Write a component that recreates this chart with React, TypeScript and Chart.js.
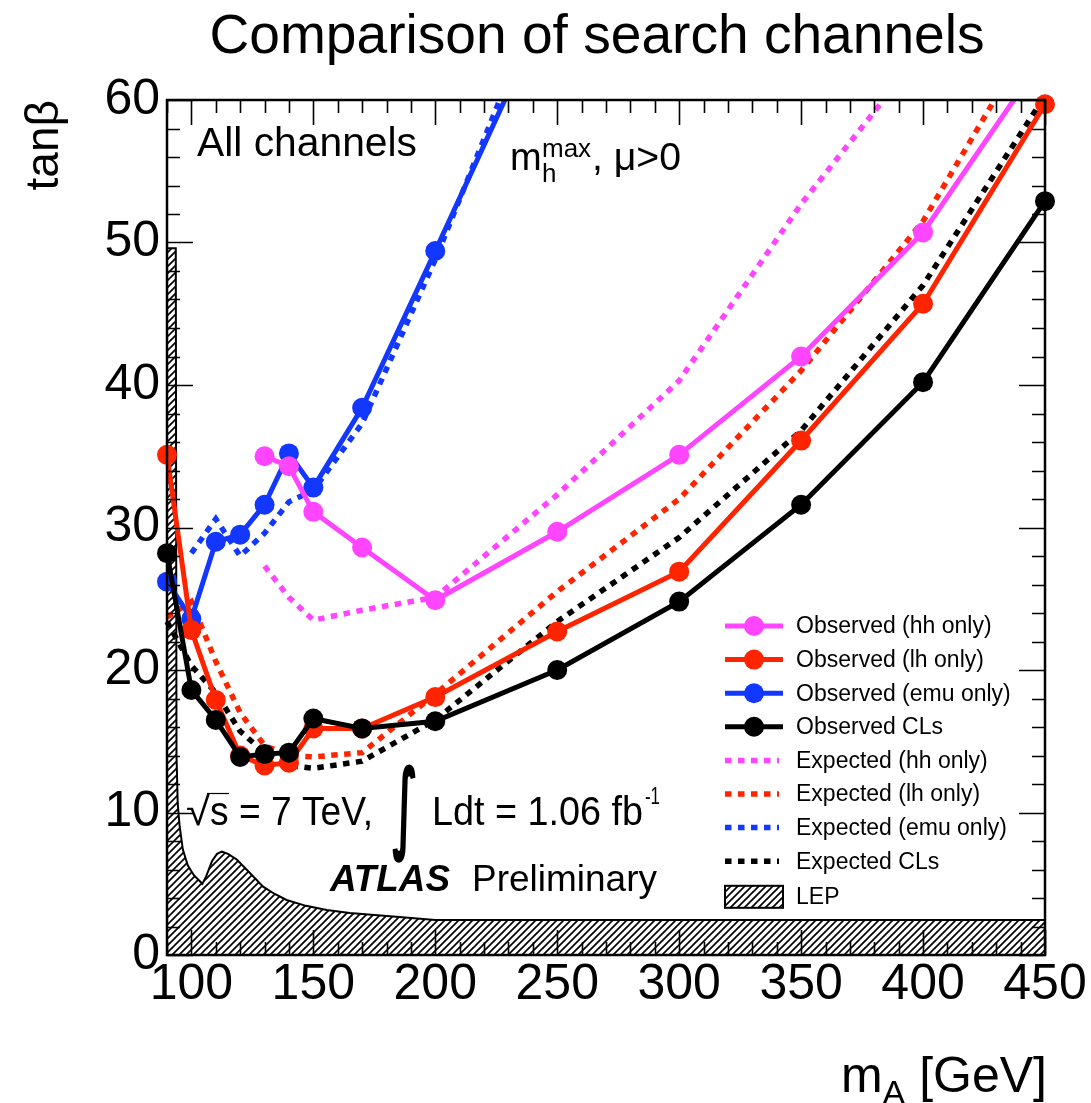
import React, { useEffect, useRef } from 'react';
import { Chart, registerables } from 'chart.js';

Chart.register(...registerables);

const W = 1091;
const H = 1103;
const FONT = '"Liberation Sans", Arial, Helvetica, sans-serif';

// ---------------- data ----------------
const massGrid = [90, 100, 110, 120, 130, 140, 150, 170, 200, 250, 300, 350, 400, 450];

const obsHhMass = [130, 140, 150, 170, 200, 250, 300, 350, 400, 450];
const obsHh = [35.0, 34.3, 31.1, 28.6, 24.9, 29.7, 35.1, 42.0, 50.7, 63.2];

const obsLh = [35.1, 22.8, 17.9, 14.0, 13.3, 13.5, 15.9, 15.9, 18.1, 22.7, 26.9, 36.1, 45.7, 59.7];

const obsEmuMass = [90, 100, 110, 120, 130, 140, 150, 170, 200, 250];
const obsEmu = [26.2, 23.6, 29.0, 29.5, 31.6, 35.2, 32.8, 38.4, 49.4, 68.0];

const obsCLs = [28.2, 18.6, 16.5, 13.9, 14.1, 14.2, 16.6, 15.9, 16.4, 20.0, 24.8, 31.6, 40.2, 52.9];

const expHhMass = [130, 140, 150, 170, 200, 250, 300, 350, 400];
const expHh = [27.3, 25.1, 23.5, 24.2, 25.1, 32.3, 40.3, 52.7, 63.5];

const expLh = [23.7, 24.8, 20.6, 17.0, 14.7, 14.0, 13.9, 14.2, 18.3, 25.5, 32.0, 41.0, 51.5, 66.0];

const expEmuMass = [100, 110, 120, 130, 140, 150, 170, 200, 250];
const expEmu = [28.2, 30.6, 28.0, 29.6, 31.8, 32.6, 37.3, 48.8, 70.0];

const expCLs = [23.4, 20.3, 18.4, 15.7, 14.2, 13.3, 13.1, 13.6, 16.5, 23.4, 29.3, 36.8, 47.0, 60.3];

const lepMass = [90, 93.6, 93.9, 94.4, 95.2, 96.5, 98.5, 101, 104.5, 106, 108.5, 110.5, 112.5, 115, 118.6, 124, 129.4, 134, 139, 147, 155.5, 165, 182.7, 200, 450];
const lepTanb = [49.6, 49.6, 14.0, 10.6, 9.0, 7.4, 6.3, 5.6, 5.0, 5.5, 6.6, 7.1, 7.25, 7.1, 6.7, 5.75, 4.8, 4.3, 3.86, 3.45, 3.16, 2.95, 2.7, 2.46, 2.46];

const xTickValues = [100, 150, 200, 250, 300, 350, 400, 450];
const yTickValues = [0, 10, 20, 30, 40, 50, 60];

const seriesLabels = [
  'Observed (hh only)',
  'Observed (lh only)',
  'Observed (emu only)',
  'Observed CLs',
  'Expected (hh only)',
  'Expected (lh only)',
  'Expected (emu only)',
  'Expected CLs',
  'LEP',
];

const MAGENTA = '#ff45ff';
const RED = '#ff2400';
const BLUE = '#1237ff';
const BLACK = '#000000';

// ---------------- helpers ----------------
const pts = (xs: number[], ys: number[]) => xs.map((x, i) => ({ x, y: ys[i] }));

function makeHatch(size = 7, lw = 1.7): CanvasPattern | string {
  const c = document.createElement('canvas');
  c.width = size;
  c.height = size;
  const g = c.getContext('2d');
  if (!g) return '#888';
  g.strokeStyle = '#000';
  g.lineWidth = lw;
  g.beginPath();
  g.moveTo(0, size);
  g.lineTo(size, 0);
  g.moveTo(-2, 2);
  g.lineTo(2, -2);
  g.moveTo(size - 2, size + 2);
  g.lineTo(size + 2, size - 2);
  g.stroke();
  const p = g.createPattern(c, 'repeat');
  return p || '#888';
}

function fitText(ctx: CanvasRenderingContext2D, s: string, x: number, y: number, font: string, width?: number, align: 'left' | 'center' | 'right' = 'left') {
  ctx.save();
  ctx.font = font;
  ctx.textBaseline = 'alphabetic';
  ctx.textAlign = 'left';
  const w = ctx.measureText(s).width;
  const sx = width ? width / w : 1;
  const drawnW = w * sx;
  let x0 = x;
  if (align === 'center') x0 = x - drawnW / 2;
  if (align === 'right') x0 = x - drawnW;
  ctx.translate(x0, y);
  ctx.scale(sx, 1);
  ctx.fillText(s, 0, 0);
  ctx.restore();
  return drawnW;
}

const decorPlugin = {
  id: 'atlasDecor',
  afterDatasetsDraw(chart: any) {
    const ctx: CanvasRenderingContext2D = chart.ctx;
    const { left, right, top, bottom } = chart.chartArea;
    const xs = chart.scales.x;
    const ys = chart.scales.y;
    ctx.save();
    ctx.strokeStyle = '#000';
    ctx.lineWidth = 1.6;
    ctx.beginPath();
    for (let v = 90; v <= 450; v += 10) {
      const px = Math.round(xs.getPixelForValue(v)) + 0.5;
      const len = v % 50 === 0 ? 25 : 13;
      ctx.moveTo(px, bottom);
      ctx.lineTo(px, bottom - len);
      ctx.moveTo(px, top);
      ctx.lineTo(px, top + len);
    }
    for (let v = 0; v <= 60; v += 2) {
      const py = Math.round(ys.getPixelForValue(v)) + 0.5;
      const len = v % 10 === 0 ? 26 : 13;
      ctx.moveTo(left, py);
      ctx.lineTo(left + len, py);
      ctx.moveTo(right, py);
      ctx.lineTo(right - len, py);
    }
    ctx.stroke();
    ctx.lineWidth = 2.5;
    ctx.strokeRect(left, top, right - left, bottom - top);
    ctx.restore();
  },
  afterDraw(chart: any) {
    const ctx: CanvasRenderingContext2D = chart.ctx;
    ctx.save();
    ctx.fillStyle = '#000';

    // title
    fitText(ctx, 'Comparison of search channels', 597, 53, `56px ${FONT}`, 775, 'center');

    // y title
    ctx.save();
    ctx.translate(58, 100);
    ctx.rotate(-Math.PI / 2);
    ctx.font = `46px ${FONT}`;
    ctx.textAlign = 'right';
    ctx.textBaseline = 'alphabetic';
    ctx.fillText('tanβ', 0, 0);
    ctx.restore();

    // x title: m_A [GeV]
    ctx.save();
    ctx.textBaseline = 'alphabetic';
    ctx.textAlign = 'left';
    ctx.font = `50px ${FONT}`;
    const wm = ctx.measureText('m').width;
    const wr = ctx.measureText(' [GeV]').width;
    ctx.font = `34px ${FONT}`;
    const wa = ctx.measureText('A').width;
    let xx = 1047 - (wm + wa + wr);
    ctx.font = `50px ${FONT}`;
    ctx.fillText('m', xx, 1092);
    xx += wm;
    ctx.font = `34px ${FONT}`;
    ctx.fillText('A', xx, 1104);
    xx += wa;
    ctx.font = `50px ${FONT}`;
    ctx.fillText(' [GeV]', xx, 1092);
    ctx.restore();

    // in-frame labels
    fitText(ctx, 'All channels', 197, 156, `40px ${FONT}`, 220);
    fitText(ctx, 'm', 510, 170, `38px ${FONT}`);
    fitText(ctx, 'max', 542, 157, `26px ${FONT}`);
    fitText(ctx, 'h', 542, 182, `26px ${FONT}`);
    fitText(ctx, ', μ>0', 592, 170, `38px ${FONT}`, 89);

    // sqrt(s) = 7 TeV, int L dt = 1.06 fb^-1
    fitText(ctx, '√', 186, 825, `40px ${FONT}`, 24);
    ctx.save();
    ctx.strokeStyle = '#000';
    ctx.lineWidth = 1.2;
    ctx.beginPath();
    ctx.moveTo(207, 793.5);
    ctx.lineTo(229, 793.5);
    ctx.stroke();
    ctx.restore();
    fitText(ctx, 's = 7 TeV,', 210, 825, `41px ${FONT}`, 163);
    fitText(ctx, '∫', 392, 840, `bold 100px "DejaVu Sans", ${FONT}`, 26);
    fitText(ctx, 'Ldt = 1.06 fb', 432, 825, `41px ${FONT}`, 211);
    fitText(ctx, '-1', 645, 804, `24px ${FONT}`, 15);

    fitText(ctx, 'ATLAS', 330, 891, `bold italic 36px ${FONT}`, 120);
    fitText(ctx, 'Preliminary', 472, 891, `36px ${FONT}`, 185);

    // legend
    const datasets = chart.data.datasets;
    const rowY0 = 626;
    const rowStep = 33.6;
    ctx.font = `23px ${FONT}`;
    ctx.textBaseline = 'middle';
    ctx.textAlign = 'left';
    datasets.forEach((ds: any, i: number) => {
      const y = rowY0 + i * rowStep + (i === 8 ? 2 : 0);
      ctx.save();
      if (ds.isLep) {
        ctx.fillStyle = ds.backgroundColor;
        ctx.fillRect(725, y - 11, 58, 22);
        ctx.strokeStyle = '#000';
        ctx.lineWidth = 2;
        ctx.strokeRect(725, y - 11, 58, 22);
      } else if (ds.borderDash && ds.borderDash.length) {
        ctx.strokeStyle = ds.borderColor;
        ctx.lineWidth = ds.borderWidth;
        ctx.setLineDash(ds.borderDash);
        ctx.beginPath();
        ctx.moveTo(725, y);
        ctx.lineTo(779, y);
        ctx.stroke();
      } else {
        ctx.strokeStyle = ds.borderColor;
        ctx.lineWidth = ds.borderWidth;
        ctx.beginPath();
        ctx.moveTo(725, y);
        ctx.lineTo(783, y);
        ctx.stroke();
        ctx.fillStyle = ds.pointBackgroundColor;
        ctx.beginPath();
        ctx.arc(754, y, ds.pointRadius, 0, Math.PI * 2);
        ctx.fill();
      }
      ctx.restore();
      ctx.fillStyle = '#000';
      ctx.fillText(ds.label, 796, y + 1);
    });
    ctx.restore();
  },
};

const topClip = { left: false, top: 0, right: false, bottom: false } as any;

export default function App() {
  const ref = useRef<HTMLCanvasElement | null>(null);

  useEffect(() => {
    const canvas = ref.current;
    if (!canvas) return;
    const hatch = makeHatch();

    const observed = (label: string, xs: number[], ys: number[], color: string, order: number, clip: any) => ({
      label,
      data: pts(xs, ys),
      borderColor: color,
      backgroundColor: color,
      pointBackgroundColor: color,
      pointBorderColor: color,
      pointBorderWidth: 0,
      pointRadius: 10,
      borderWidth: 5,
      tension: 0,
      fill: false,
      order,
      clip,
    });
    const expected = (label: string, xs: number[], ys: number[], color: string, order: number) => ({
      label,
      data: pts(xs, ys),
      borderColor: color,
      backgroundColor: color,
      borderDash: [6.5, 6.5],
      borderCapStyle: 'butt',
      borderWidth: 5.5,
      pointRadius: 0,
      tension: 0,
      fill: false,
      order,
      clip: topClip,
    });

    const chart = new Chart(canvas, {
      type: 'line',
      data: {
        datasets: [
          observed(seriesLabels[0], obsHhMass, obsHh, MAGENTA, 2, topClip),
          observed(seriesLabels[1], massGrid, obsLh, RED, 1, false),
          observed(seriesLabels[2], obsEmuMass, obsEmu, BLUE, 3, topClip),
          observed(seriesLabels[3], massGrid, obsCLs, BLACK, 0, false),
          expected(seriesLabels[4], expHhMass, expHh, MAGENTA, 7),
          expected(seriesLabels[5], massGrid, expLh, RED, 6),
          expected(seriesLabels[6], expEmuMass, expEmu, BLUE, 5),
          expected(seriesLabels[7], massGrid, expCLs, BLACK, 4),
          {
            label: seriesLabels[8],
            isLep: true,
            data: pts(lepMass, lepTanb),
            borderColor: '#000',
            borderWidth: 2,
            backgroundColor: hatch,
            fill: 'origin',
            pointRadius: 0,
            tension: 0,
            order: 10,
          } as any,
        ] as any,
      },
      options: {
        responsive: false,
        devicePixelRatio: 1,
        animation: false,
        events: [],
        layout: { padding: { top: 100, right: 46, left: 0, bottom: 0 } },
        plugins: {
          legend: { display: false },
          tooltip: { enabled: false },
          title: { display: false },
        },
        scales: {
          x: {
            type: 'linear',
            min: 90,
            max: 450,
            grid: { display: false, drawTicks: false },
            border: { display: false },
            ticks: {
              color: '#000',
              font: { family: FONT, size: 50 },
              padding: 0,
              maxRotation: 0,
              autoSkip: false,
            },
            afterBuildTicks: (scale: any) => {
              scale.ticks = xTickValues.map((v) => ({ value: v }));
            },
            afterFit: (scale: any) => {
              scale.height = 148;
            },
          },
          y: {
            type: 'linear',
            min: 0,
            max: 60,
            grid: { display: false, drawTicks: false },
            border: { display: false },
            ticks: {
              color: '#000',
              font: { family: FONT, size: 50 },
              padding: 7,
              autoSkip: false,
            },
            afterBuildTicks: (scale: any) => {
              scale.ticks = yTickValues.map((v) => ({ value: v }));
            },
            afterFit: (scale: any) => {
              scale.width = 167;
            },
          },
        },
      } as any,
      plugins: [decorPlugin as any],
    });

    return () => {
      chart.destroy();
    };
  }, []);

  return (
    <div style={{ position: 'fixed', left: 0, top: 0, width: W, height: H, background: '#fff' }}>
      <canvas ref={ref} width={W} height={H} style={{ width: W, height: H, display: 'block' }} />
    </div>
  );
}
